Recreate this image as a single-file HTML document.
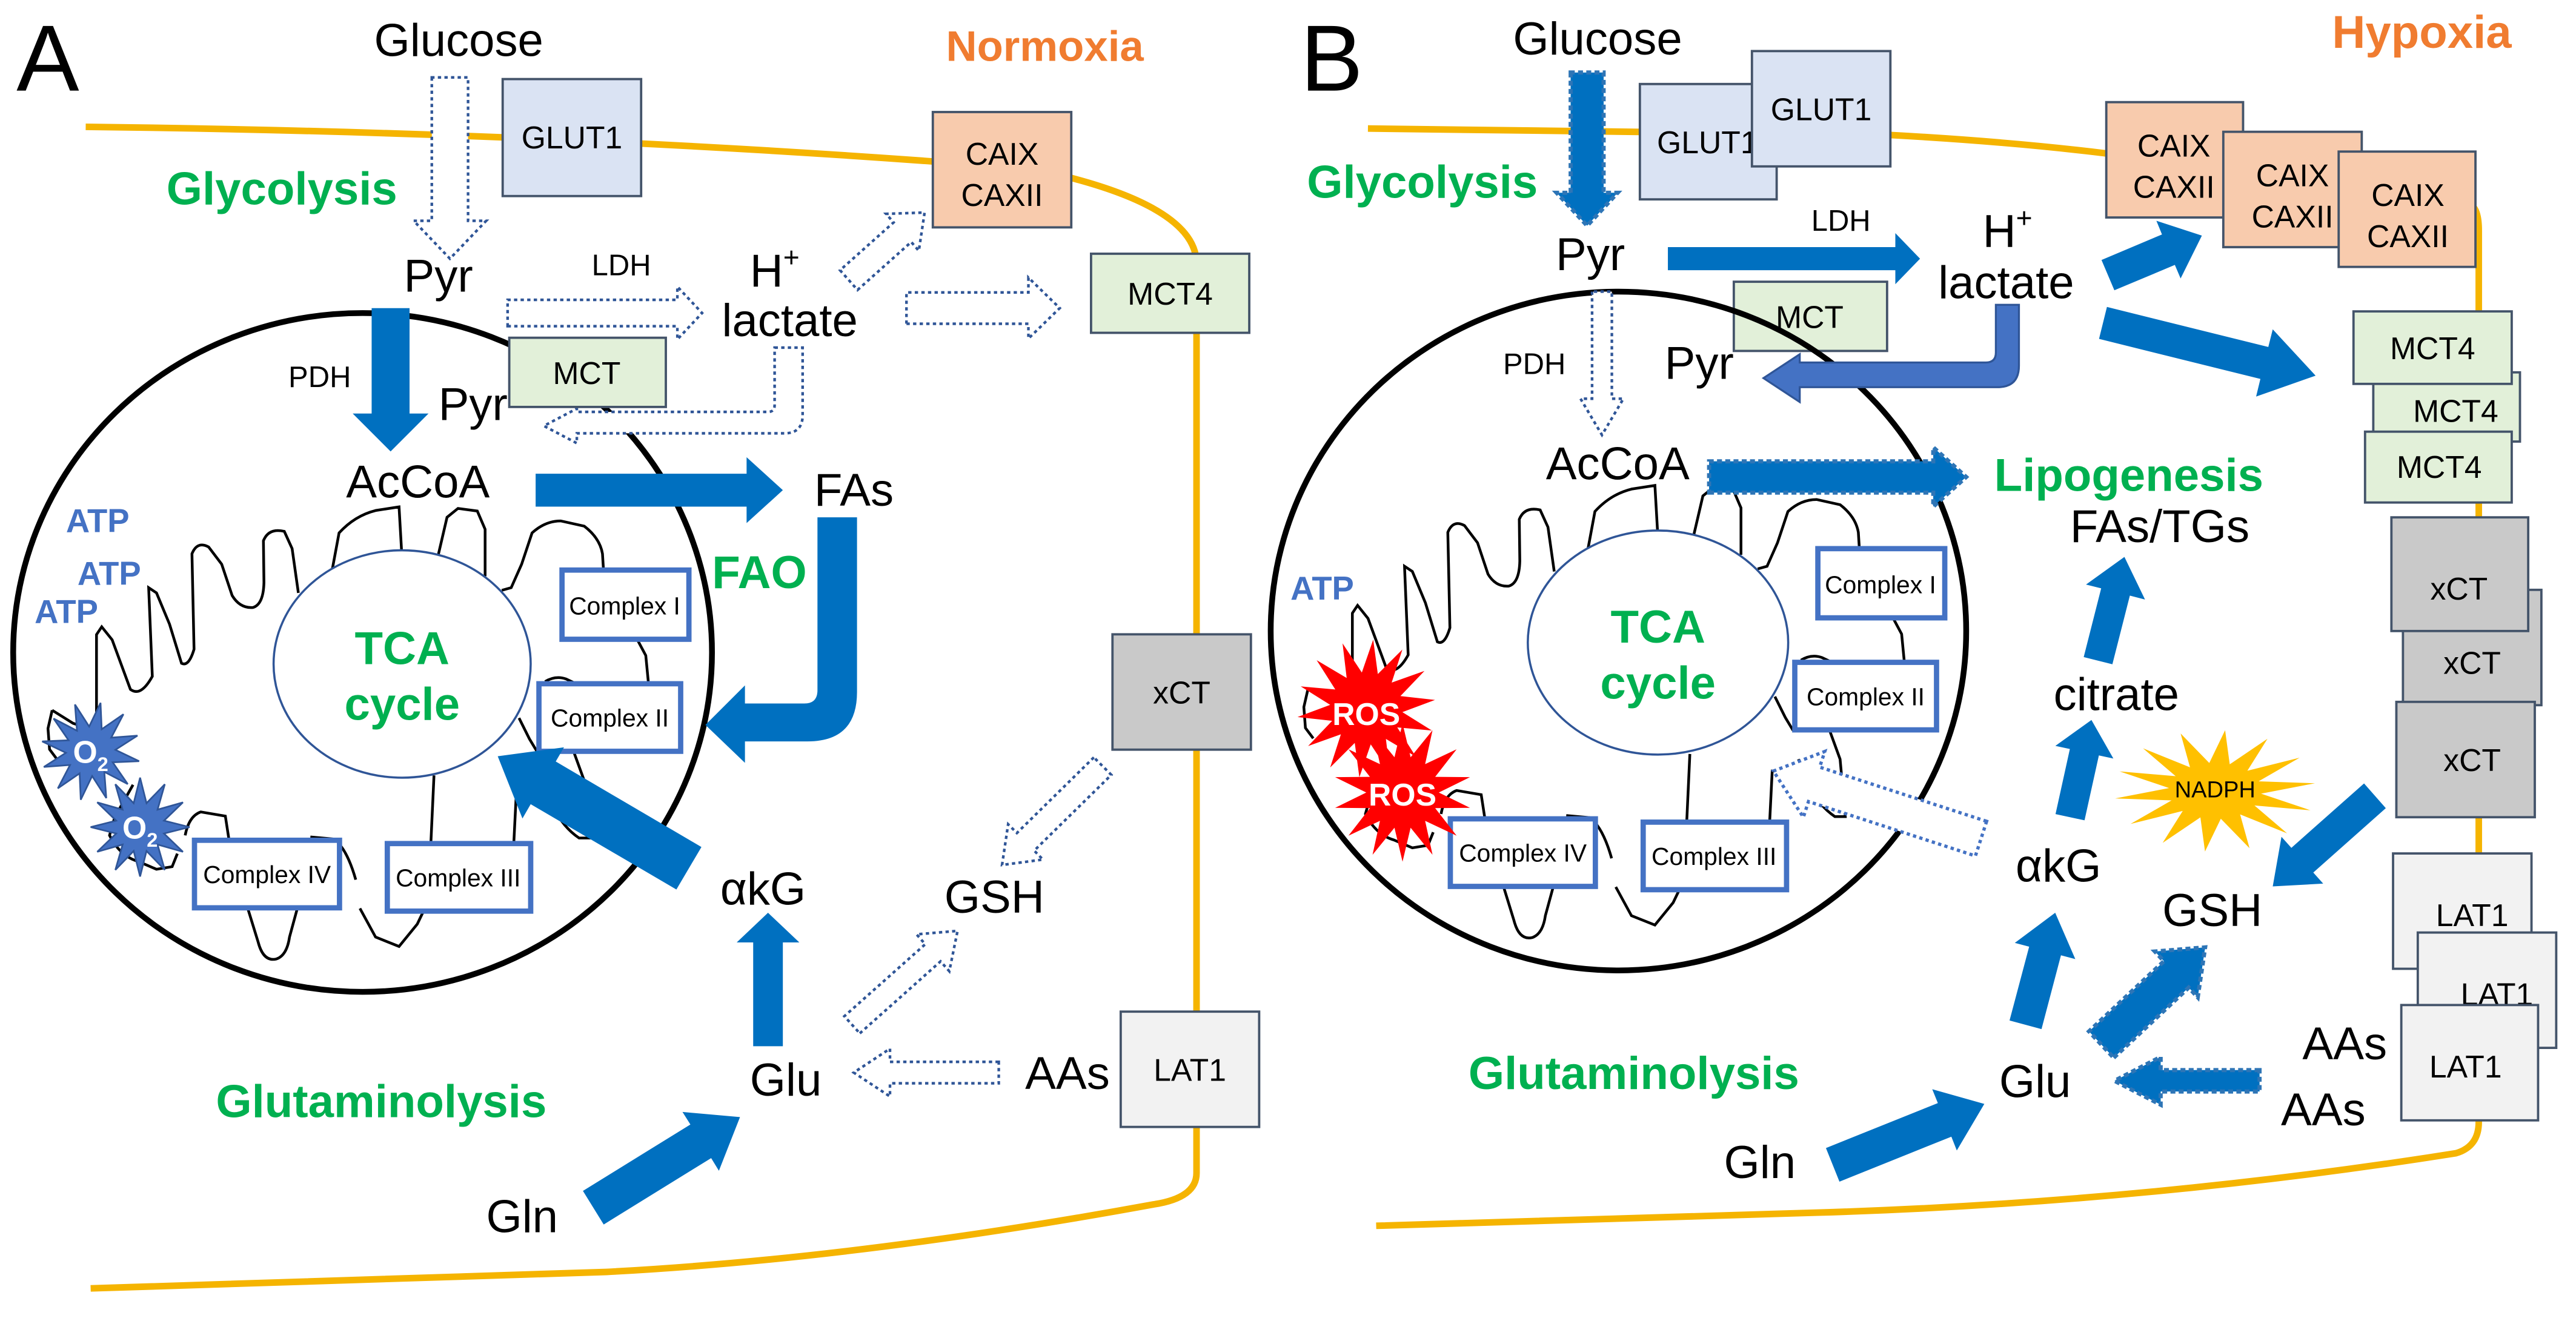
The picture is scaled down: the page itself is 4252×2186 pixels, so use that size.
<!DOCTYPE html>
<html><head><meta charset="utf-8">
<style>
html,body{margin:0;padding:0;background:#fff}
svg{display:block}
text{font-family:"Liberation Sans",Arial,sans-serif}
.k{fill:#000;font-size:28px}
.g{fill:#00B050;font-weight:bold;font-size:28px}
.o{fill:#F07C30;font-weight:bold}
.bx{stroke:#44546A;stroke-width:1.4}
.bt{font-size:19px;text-anchor:middle}
.cx{fill:#fff;stroke:#4472C4;stroke-width:3.2}
.ct{font-size:15px;text-anchor:middle}
.sm{font-size:18px}
.atp{fill:#4472C4;font-weight:bold;font-size:20px}
.cr{fill:none;stroke:#000;stroke-width:4.5}
</style></head>
<body>
<svg id="s" width="4252" height="2186" viewBox="0 0 1563 803.6" preserveAspectRatio="none" xmlns="http://www.w3.org/2000/svg">
<rect width="1563" height="803.6" fill="#fff"/>
<path d="M52,77 Q320,80 566,98 L650,108 Q726,128 726,160 L726,712 Q726,727 700,731 Q520,764 368,772 L55,782" fill="none" stroke="#F5B400" stroke-width="4"/>
<path d="M830,78 L1148,82 Q1220,86 1277,93 L1500,125 Q1504,128 1504,140 L1504,681 Q1504,696 1490,700 Q1300,730 1103,736 L835,744" fill="none" stroke="#F5B400" stroke-width="4"/>

<rect x="305" y="48" width="84" height="71" fill="#DAE3F3" class="bx"/>
<text x="347" y="90" class="bt">GLUT1</text>
<rect x="566" y="68" width="84" height="70" fill="#F8CBAD" class="bx"/>
<text x="608" y="100" class="bt">CAIX</text>
<text x="608" y="125" class="bt">CAXII</text>
<rect x="662" y="154" width="96" height="48" fill="#E2F0D9" class="bx"/>
<text x="710" y="185" class="bt">MCT4</text>
<rect x="675" y="385" width="84" height="70" fill="#C9C9C9" class="bx"/>
<text x="717" y="427" class="bt">xCT</text>
<rect x="680" y="614" width="84" height="70" fill="#F2F2F2" class="bx"/>
<text x="722" y="656" class="bt">LAT1</text>

<ellipse cx="220" cy="396" rx="212" ry="206" fill="none" stroke="#000" stroke-width="3.5"/>
<g id="crA" transform="translate(0,220.6) scale(0.3165)">
<path class="cr" vector-effect="non-scaling-stroke" d="M100,665 L140,690 L170,700 L185,690 L185,520 L195,505 L215,530 L250,625 Q270,640 292,600 L285,430 L300,440 L325,500 L348,575 Q362,582 372,548 L368,365 Q378,340 400,352 L425,385 L445,445 Q460,470 485,468 Q505,462 506,420 L505,340 Q515,315 545,322 L560,355 L572,440
M637,395 L650,325 Q680,292 720,282 L765,275 L770,362
M840,368 L857,295 L878,278 L915,283 L930,318 L930,408
M962,435 L980,430 L1000,385 L1020,325 Q1045,302 1075,302 L1120,312 Q1150,335 1155,365 L1157,397
M1222,530 L1238,560 L1243,612
M1045,610 Q1065,598 1085,605 L1100,612
M995,680 L1015,720 L1030,745 M1100,745 L1120,800 L1130,910 L1110,910 Q1080,890 1060,850 L1040,800
M832,790 L826,920 M985,920 L990,820
M690,1045 L720,1100 L765,1118 L800,1075 L812,1050
M682,990 Q665,930 640,912 L595,908
M475,1045 L495,1110 Q505,1148 530,1142 Q550,1135 555,1100 L570,1045
M440,920 L432,868 L385,860 Q362,868 355,905
M255,808 L220,870 L210,905 Q230,945 265,955 L300,970 L330,965 L340,940
M100,665 L92,700 L95,740 L110,760"/>
</g>
<ellipse cx="244" cy="403" rx="78" ry="69" fill="#fff" stroke="#2F5597" stroke-width="1.3"/>
<text x="244" y="403" class="g" text-anchor="middle">TCA</text>
<text x="244" y="437" class="g" text-anchor="middle">cycle</text>
<rect x="341" y="346" width="77" height="42" class="cx"/><text x="379" y="373" class="ct">Complex I</text>
<rect x="327" y="415" width="86" height="41" class="cx"/><text x="370" y="441" class="ct">Complex II</text>
<rect x="118" y="510" width="88" height="41" class="cx"/><text x="162" y="536" class="ct">Complex IV</text>
<rect x="235" y="512" width="87" height="41" class="cx"/><text x="278" y="538" class="ct">Complex III</text>

<rect x="995" y="51" width="83" height="70" fill="#DAE3F3" class="bx"/>
<text x="1036" y="93" class="bt">GLUT1</text>
<rect x="1063" y="31" width="84" height="70" fill="#DAE3F3" class="bx"/>
<text x="1105" y="73" class="bt">GLUT1</text>
<rect x="1278" y="62" width="83" height="70" fill="#F8CBAD" class="bx"/>
<text x="1319" y="95" class="bt">CAIX</text><text x="1319" y="120" class="bt">CAXII</text>
<rect x="1349" y="80" width="84" height="70" fill="#F8CBAD" class="bx"/>
<text x="1391" y="113" class="bt">CAIX</text><text x="1391" y="138" class="bt">CAXII</text>
<rect x="1419" y="92" width="83" height="70" fill="#F8CBAD" class="bx"/>
<text x="1461" y="125" class="bt">CAIX</text><text x="1461" y="150" class="bt">CAXII</text>
<rect x="1440" y="226" width="89" height="42" fill="#E2F0D9" class="bx"/>
<rect x="1428" y="189" width="96" height="44" fill="#E2F0D9" class="bx"/><text x="1476" y="218" class="bt">MCT4</text>
<text x="1490" y="256" class="bt">MCT4</text>
<rect x="1435" y="262" width="89" height="43" fill="#E2F0D9" class="bx"/><text x="1480" y="290" class="bt">MCT4</text>
<rect x="1458" y="358" width="84" height="70" fill="#C9C9C9" class="bx"/>
<rect x="1451" y="314" width="83" height="69" fill="#C9C9C9" class="bx"/><text x="1492" y="364" class="bt">xCT</text>
<text x="1500" y="409" class="bt">xCT</text>
<rect x="1454" y="426" width="84" height="70" fill="#C9C9C9" class="bx"/><text x="1500" y="468" class="bt">xCT</text>
<rect x="1452" y="518" width="84" height="70" fill="#F2F2F2" class="bx"/><text x="1500" y="562" class="bt">LAT1</text>
<rect x="1467" y="566" width="84" height="70" fill="#F2F2F2" class="bx"/><text x="1515" y="610" class="bt">LAT1</text>
<rect x="1457" y="610" width="83" height="70" fill="#F2F2F2" class="bx"/><text x="1496" y="654" class="bt">LAT1</text>
<rect x="1052" y="171" width="93" height="42" fill="#E2F0D9" class="bx"/>
<text x="1098" y="199" class="bt">MCT</text>

<ellipse cx="982" cy="383" rx="211" ry="206" fill="none" stroke="#000" stroke-width="3.5"/>
<use href="#crA" transform="translate(762,-13)"/>
<ellipse cx="1006" cy="390" rx="79" ry="68" fill="#fff" stroke="#2F5597" stroke-width="1.3"/>
<text x="1006" y="390" class="g" text-anchor="middle">TCA</text>
<text x="1006" y="424" class="g" text-anchor="middle">cycle</text>
<rect x="1103" y="333" width="77" height="42" class="cx"/><text x="1141" y="360" class="ct">Complex I</text>
<rect x="1089" y="402" width="86" height="41" class="cx"/><text x="1132" y="428" class="ct">Complex II</text>
<rect x="880" y="497" width="88" height="41" class="cx"/><text x="924" y="523" class="ct">Complex IV</text>
<rect x="997" y="499" width="87" height="41" class="cx"/><text x="1040" y="525" class="ct">Complex III</text>

<g id="arrows"></g>
<g id="stars"></g>

<rect x="309" y="205" width="95" height="42" fill="#E2F0D9" class="bx"/>
<text x="356" y="233" class="bt">MCT</text>
<text x="10" y="55" font-size="57">A</text>
<text x="227" y="34" class="k">Glucose</text>
<text x="101" y="124" class="g">Glycolysis</text>
<text x="574" y="37" font-size="26" class="o">Normoxia</text>
<text x="245" y="177" class="k">Pyr</text>
<text x="175" y="235" class="sm">PDH</text>
<text x="359" y="167" class="sm">LDH</text>
<text x="455" y="174" class="k">H<tspan font-size="17" dy="-12">+</tspan></text>
<text x="438" y="204" class="k">lactate</text>
<text x="266" y="255" class="k">Pyr</text>
<text x="210" y="302" class="k">AcCoA</text>
<text x="494" y="307" class="k">FAs</text>
<text x="432" y="357" class="g">FAO</text>
<text x="40" y="323" class="atp">ATP</text>
<text x="47" y="355" class="atp">ATP</text>
<text x="21" y="378" class="atp">ATP</text>
<text x="437" y="549" class="k">αkG</text>
<text x="455" y="665" class="k">Glu</text>
<text x="295" y="748" class="k">Gln</text>
<text x="573" y="554" class="k">GSH</text>
<text x="622" y="661" class="k">AAs</text>
<text x="131" y="678" class="g">Glutaminolysis</text>

<text x="789" y="55" font-size="57">B</text>
<text x="918" y="33" class="k">Glucose</text>
<text x="1415" y="29" font-size="28" class="o">Hypoxia</text>
<text x="793" y="120" class="g">Glycolysis</text>
<text x="944" y="164" class="k">Pyr</text>
<text x="1099" y="140" class="sm">LDH</text>
<text x="1203" y="150" class="k">H<tspan font-size="17" dy="-12">+</tspan></text>
<text x="1176" y="181" class="k">lactate</text>
<text x="912" y="227" class="sm">PDH</text>
<text x="1010" y="230" class="k">Pyr</text>
<text x="938" y="291" class="k">AcCoA</text>
<text x="1210" y="298" class="g">Lipogenesis</text>
<text x="1256" y="329" class="k">FAs/TGs</text>
<text x="783" y="364" class="atp">ATP</text>
<text x="829" y="440" font-size="19" fill="#fff" font-weight="bold" text-anchor="middle">ROS</text>
<text x="851" y="489" font-size="19" fill="#fff" font-weight="bold" text-anchor="middle">ROS</text>
<text x="1246" y="431" class="k">citrate</text>
<text x="1223" y="535" class="k">αkG</text>
<text x="1312" y="562" class="k">GSH</text>
<text x="1213" y="666" class="k">Glu</text>
<text x="1397" y="643" class="k">AAs</text>
<text x="1384" y="683" class="k">AAs</text>
<text x="891" y="661" class="g">Glutaminolysis</text>
<text x="1046" y="715" class="k">Gln</text>
<text x="1344" y="484" font-size="14" text-anchor="middle">NADPH</text>
<text x="55" y="463" font-size="19" fill="#fff" font-weight="bold" text-anchor="middle">O<tspan font-size="12" dy="5">2</tspan></text>
<text x="85" y="509" font-size="19" fill="#fff" font-weight="bold" text-anchor="middle">O<tspan font-size="12" dy="5">2</tspan></text>
</svg>
<script>
var NS="http://www.w3.org/2000/svg";
var A=document.getElementById("arrows");
function el(t,a,p){var e=document.createElementNS(NS,t);for(var k in a)e.setAttribute(k,a[k]);(p||A).appendChild(e);return e;}
function arr(x1,y1,x2,y2,w,hw,hl,st){
 var dx=x2-x1,dy=y2-y1,L=Math.hypot(dx,dy),ux=dx/L,uy=dy/L,nx=-uy,ny=ux;
 var bx=x2-ux*hl,by=y2-uy*hl;
 var p=[[x1+nx*w/2,y1+ny*w/2],[bx+nx*w/2,by+ny*w/2],[bx+nx*hw/2,by+ny*hw/2],[x2,y2],[bx-nx*hw/2,by-ny*hw/2],[bx-nx*w/2,by-ny*w/2],[x1-nx*w/2,y1-ny*w/2]];
 var s=p.map(function(q){return q[0].toFixed(1)+","+q[1].toFixed(1)}).join(" ");
 if(st=="d") el("polygon",{points:s,fill:"#fff",stroke:"#2F5597","stroke-width":1.6,"stroke-dasharray":"2,2"});
 else if(st=="dl") el("polygon",{points:s,fill:"#fff",stroke:"#4472C4","stroke-width":2,"stroke-dasharray":"2,2"});
 else if(st=="sd") el("polygon",{points:s,fill:"#0070C0",stroke:"#2E75B6","stroke-width":2.5,"stroke-dasharray":"3,2"});
 else el("polygon",{points:s,fill:"#0070C0"});
}
arr(273,47,273,157,22,44,23,"d");
arr(237,187,237,274,23,46,23);
arr(308,190,426,190,16,32,15,"d");
arr(515,170,561,129,16,30,18,"d");
arr(550,187,643,187,19,37,19,"d");
el("path",{d:"M470,211 L487,211 L487,252 Q487,263 476,263 L350,263 L350,269 L330,258.5 L350,248 L350,250 L466,250 Q470,250 470,246 Z",fill:"#fff",stroke:"#2F5597","stroke-width":1.6,"stroke-dasharray":"2,2"});
arr(325,297.5,475,297.5,20,40,22);
el("path",{d:"M496,314 L520,314 L520,420 Q520,450 490,450 L452,450 L452,463 L428,440 L452,416 L452,427 L488,427 Q496,427 496,419 Z",fill:"#0070C0"});
arr(466,635,466,554,18,38,18);
arr(418,527,302,459,30,50,32);
arr(360,733,449,678,24,42,28);
arr(606,651,518,651,13,29,22,"d");
arr(517,622,581,565,14,30,20,"d");
arr(669,465,608,525,15,30,20,"d");
arr(963,44,963,137,20,37,20,"sd");
arr(1012,157,1165,157,14,31,15);
arr(972,177,972,264,12,26,22,"d");
el("path",{d:"M1211,185 L1225,185 L1225,222 Q1225,235 1212,235 L1092,235 L1092,244 L1070,229.5 L1092,215 L1092,220 L1205,220 Q1211,220 1211,214 Z",fill:"#4472C4",stroke:"#2F5597","stroke-width":1.2});
arr(1279,167,1336,143,20,38,22);
arr(1276,196,1405,228,20,42,32);
arr(1037,289.5,1193,289.5,19,36,20,"sd");
arr(1273,401,1289,338,18,37,22);
arr(1256,496,1269,437,18,36,20);
arr(1202,509,1076,468,22,42,26,"dl");
arr(1229,622,1247,554,20,38,24);
arr(1275,634,1338,575,22,38,24,"sd");
arr(1441,483,1379,538,20,38,24);
arr(1371,656,1283,656,13,29,28,"sd");
arr(1112,707,1204,670,22,40,26);
var S=document.getElementById("stars");
function star(cx,cy,ro,ri,n,fill,rot,sx){var p=[];sx=sx||1;for(var i=0;i<2*n;i++){var r=i%2?ri:ro,a=(rot||0)+Math.PI*i/n;p.push((cx+sx*r*Math.sin(a)).toFixed(1)+","+(cy-r*Math.cos(a)).toFixed(1));}
 el("polygon",{points:p.join(" "),fill:fill,stroke:fill=="#4472C4"?"#2F5597":"none"},S);}
star(55,456,30,15,12,"#4472C4",0.2);
star(85,502,30,15,12,"#4472C4",0);
star(829,430,42,22,14,"#FF0000",0.1);
star(851,481,42,22,14,"#FF0000",0);
star(1344,480,37,17,14,"#FFC000",0.1,1.65);
</script>
</body></html>
